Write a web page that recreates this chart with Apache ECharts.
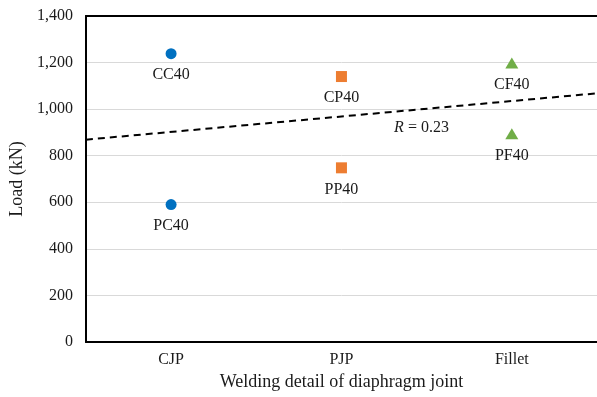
<!DOCTYPE html>
<html>
<head>
<meta charset="utf-8">
<script src="https://cdn.jsdelivr.net/npm/echarts@6/dist/echarts.min.js"></script>
<style>
html,body{margin:0;padding:0;background:#fff;}
#chart{width:597px;height:397px;}
</style>
</head>
<body>
<div id="chart"></div>
<script>
const categories = ['CJP', 'PJP', 'Fillet'];
const yTicks = [0, 200, 400, 600, 800, 1000, 1200, 1400];

// series: [category, load, label]
const circleNames = ['CC40', 'PC40'];
const circleCats = ['CJP', 'CJP'];
const circleLoads = [1238, 590];

const squareNames = ['CP40', 'PP40'];
const squareCats = ['PJP', 'PJP'];
const squareLoads = [1140, 748];

const triNames = ['CF40', 'PF40'];
const triCats = ['Fillet', 'Fillet'];
const triLoads = [1198, 894];

// trend line (linear fit), x in category index units
const trendX = [-0.5, 2.5];
const trendY = [869, 1068];

// annotation
const annX = [1.47];
const annY = [920];
const annText = ['{i|R} = 0.23'];

const FONT = '"Liberation Serif", "Times New Roman", serif';

function pts(cats, loads, names) {
  return cats.map((c, i) => ({ value: [c, loads[i]], name: names[i] }));
}

const labelCfg = {
  show: true,
  position: 'bottom',
  distance: 8,
  formatter: p => p.name,
  color: '#1a1a1a',
  fontFamily: FONT,
  fontSize: 16
};

const chart = echarts.init(document.getElementById('chart'), null, { renderer: 'canvas' });
chart.setOption({
  animation: false,
  backgroundColor: '#fff',
  grid: { left: 84, top: 16, width: 517, height: 326 },
  xAxis: [
    {
      type: 'category',
      data: categories,
      position: 'bottom',
      boundaryGap: true,
      axisLine: { show: true, onZero: false, lineStyle: { color: '#000', width: 2 } },
      axisTick: { show: false },
      axisLabel: { color: '#1a1a1a', fontFamily: FONT, fontSize: 16, margin: 10 },
      name: 'Welding detail of diaphragm joint',
      nameLocation: 'middle',
      nameGap: 30,
      nameTextStyle: { color: '#1a1a1a', fontFamily: FONT, fontSize: 18 },
      splitLine: { show: false }
    },
    {
      type: 'value',
      min: -0.5,
      max: 2.5,
      position: 'top',
      axisLine: { show: true, onZero: false, lineStyle: { color: '#000', width: 2 } },
      axisTick: { show: false },
      axisLabel: { show: false },
      splitLine: { show: false }
    }
  ],
  yAxis: {
    type: 'value',
    min: 0,
    max: 1400,
    interval: 200,
    axisLine: { show: true, onZero: false, lineStyle: { color: '#000', width: 2 } },
    axisTick: { show: false },
    axisLabel: {
      color: '#1a1a1a', fontFamily: FONT, fontSize: 16, margin: 13,
      formatter: v => v.toLocaleString('en-US')
    },
    splitLine: { show: true, lineStyle: { color: '#d9d9d9', width: 1 } },
    name: 'Load (kN)',
    nameLocation: 'middle',
    nameGap: 58,
    nameTextStyle: { color: '#1a1a1a', fontFamily: FONT, fontSize: 18 }
  },
  series: [
    {
      type: 'line',
      xAxisIndex: 1,
      data: trendX.map((x, i) => [x, trendY[i]]),
      symbol: 'none',
      lineStyle: { color: '#000', width: 2, type: [7, 5] },
      z: 1
    },
    {
      type: 'scatter',
      data: pts(circleCats, circleLoads, circleNames),
      symbol: 'circle',
      symbolSize: 11,
      itemStyle: { color: '#0070C0', opacity: 1 },
      label: labelCfg
    },
    {
      type: 'scatter',
      data: pts(squareCats, squareLoads, squareNames),
      symbol: 'rect',
      symbolSize: 11,
      itemStyle: { color: '#ED7D31', opacity: 1 },
      label: labelCfg
    },
    {
      type: 'scatter',
      data: pts(triCats, triLoads, triNames),
      symbol: 'triangle',
      symbolSize: [13, 11],
      itemStyle: { color: '#70AD47', opacity: 1 },
      label: labelCfg
    },
    {
      type: 'scatter',
      xAxisIndex: 1,
      data: annX.map((x, i) => ({ value: [x, annY[i]], name: annText[i] })),
      symbolSize: 1,
      itemStyle: { color: '#ffffff', opacity: 1 },
      label: {
        show: true,
        position: 'inside',
        formatter: p => p.name,
        color: '#1a1a1a',
        opacity: 1,
        fontFamily: FONT,
        fontSize: 16,
        rich: { i: { fontStyle: 'italic', fontFamily: FONT, fontSize: 16, color: '#1a1a1a' } }
      },
      silent: true
    }
  ]
});
</script>
</body>
</html>
